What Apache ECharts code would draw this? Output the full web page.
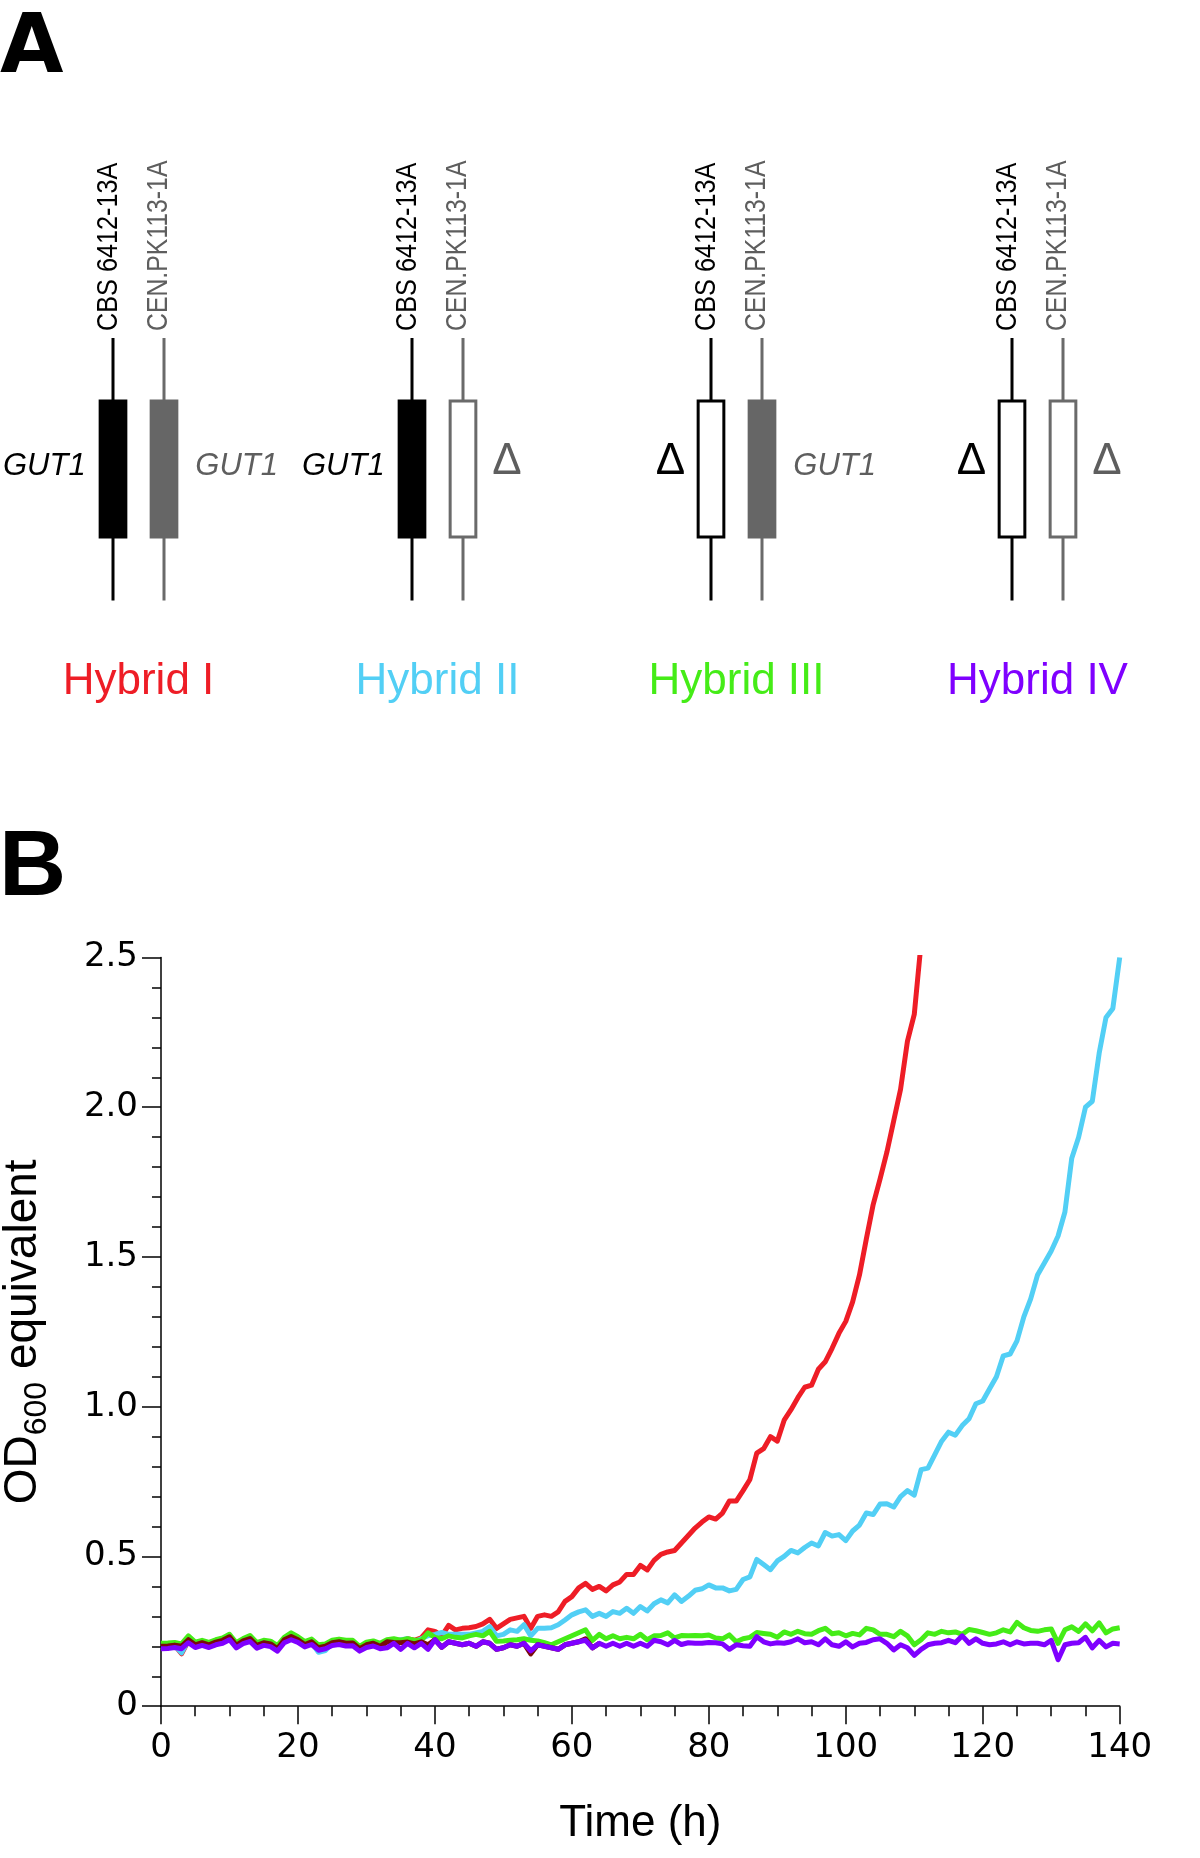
<!DOCTYPE html>
<html><head><meta charset="utf-8">
<script src="https://cdn.jsdelivr.net/npm/echarts@6/dist/echarts.min.js"></script>
<style>html,body{margin:0;padding:0;background:#fff}#c{width:1200px;height:1858px}</style>
</head><body><div id="c"></div>
<script>
// ---------- DATA ----------
const hours = [0,1,2,3,4,5,6,7,8,9,10,11,12,13,14,15,16,17,18,19,20,21,22,23,24,25,26,27,28,29,30,31,32,33,34,35,36,37,38,39,40,41,42,43,44,45,46,47,48,49,50,51,52,53,54,55,56,57,58,59,60,61,62,63,64,65,66,67,68,69,70,71,72,73,74,75,76,77,78,79,80,81,82,83,84,85,86,87,88,89,90,91,92,93,94,95,96,97,98,99,100,101,102,103,104,105,106,107,108,109,110,111,112,113,114,115,116,117,118,119,120,121,122,123,124,125,126,127,128,129,130,131,132,133,134,135,136,137,138,139,140];

const hybridI = [0.198,0.200,0.203,0.175,0.218,0.204,0.208,0.204,0.212,0.219,
 0.230,0.202,0.216,0.224,0.202,0.210,0.206,0.190,0.220,0.230,
 0.220,0.205,0.213,0.194,0.198,0.210,0.213,0.208,0.210,0.188,
 0.204,0.208,0.200,0.215,0.220,0.215,0.225,0.220,0.228,0.255,
 0.250,0.235,0.270,0.255,0.260,0.262,0.266,0.275,0.290,0.260,
 0.275,0.290,0.295,0.300,0.260,0.300,0.305,0.300,0.315,0.350,
 0.366,0.395,0.410,0.390,0.400,0.385,0.405,0.415,0.440,0.440,
 0.470,0.455,0.487,0.507,0.515,0.520,0.545,0.570,0.595,0.615,
 0.632,0.625,0.645,0.685,0.685,0.720,0.757,0.845,0.860,0.900,
 0.885,0.955,0.990,1.030,1.065,1.072,1.125,1.150,1.195,1.245,
 1.285,1.350,1.440,1.560,1.675,1.760,1.850,1.955,2.060,2.220,
 2.310,2.550];

const hybridII = [0.200,0.198,0.202,0.178,0.220,0.203,0.210,0.203,0.212,0.218,
 0.228,0.200,0.216,0.222,0.200,0.210,0.206,0.191,0.221,0.230,
 0.219,0.204,0.212,0.180,0.186,0.210,0.214,0.209,0.210,0.192,
 0.205,0.212,0.203,0.220,0.215,0.222,0.225,0.215,0.225,0.235,
 0.240,0.246,0.240,0.240,0.240,0.240,0.245,0.250,0.266,0.235,
 0.240,0.255,0.250,0.272,0.235,0.260,0.260,0.262,0.272,0.288,
 0.305,0.315,0.322,0.300,0.310,0.300,0.316,0.310,0.327,0.310,
 0.333,0.318,0.342,0.355,0.345,0.372,0.350,0.367,0.387,0.392,
 0.405,0.395,0.395,0.385,0.390,0.423,0.432,0.490,0.473,0.456,
 0.485,0.500,0.520,0.512,0.530,0.545,0.535,0.580,0.568,0.573,
 0.553,0.585,0.605,0.645,0.640,0.675,0.676,0.665,0.700,0.720,
 0.705,0.790,0.795,0.840,0.885,0.915,0.905,0.937,0.960,1.010,
 1.019,1.060,1.100,1.170,1.176,1.220,1.300,1.360,1.440,1.480,
 1.520,1.570,1.650,1.830,1.900,2.000,2.020,2.180,2.300,2.330,
 2.500];

const hybridIII = [0.210,0.211,0.213,0.208,0.235,0.214,0.220,0.213,0.222,0.228,
 0.240,0.212,0.226,0.236,0.212,0.220,0.217,0.202,0.230,0.245,
 0.232,0.216,0.224,0.205,0.208,0.220,0.224,0.220,0.220,0.200,
 0.214,0.218,0.210,0.222,0.225,0.220,0.225,0.220,0.220,0.245,
 0.230,0.225,0.235,0.230,0.228,0.235,0.240,0.235,0.250,0.217,
 0.218,0.220,0.222,0.225,0.220,0.218,0.212,0.205,0.215,0.225,
 0.235,0.245,0.255,0.220,0.240,0.225,0.235,0.225,0.230,0.225,
 0.240,0.222,0.235,0.236,0.245,0.228,0.236,0.235,0.236,0.235,
 0.238,0.228,0.225,0.238,0.215,0.225,0.230,0.246,0.243,0.240,
 0.230,0.248,0.240,0.250,0.242,0.240,0.252,0.260,0.242,0.245,
 0.235,0.243,0.238,0.260,0.255,0.240,0.240,0.232,0.250,0.235,
 0.205,0.222,0.245,0.240,0.250,0.245,0.248,0.240,0.256,0.252,
 0.246,0.240,0.245,0.255,0.248,0.280,0.262,0.253,0.250,0.255,
 0.258,0.210,0.255,0.265,0.250,0.275,0.252,0.278,0.245,0.258,
 0.262];

const hybridIV = [0.192,0.193,0.196,0.192,0.212,0.196,0.203,0.196,0.205,0.210,
 0.222,0.195,0.209,0.216,0.194,0.203,0.199,0.184,0.212,0.222,
 0.213,0.198,0.206,0.187,0.192,0.203,0.206,0.201,0.202,0.184,
 0.196,0.201,0.192,0.195,0.210,0.190,0.210,0.195,0.210,0.190,
 0.222,0.197,0.215,0.210,0.205,0.210,0.200,0.215,0.210,0.190,
 0.195,0.205,0.200,0.210,0.185,0.205,0.200,0.195,0.190,0.205,
 0.210,0.215,0.220,0.195,0.210,0.200,0.210,0.200,0.210,0.200,
 0.210,0.200,0.220,0.215,0.205,0.220,0.206,0.212,0.210,0.210,
 0.213,0.212,0.208,0.190,0.205,0.202,0.200,0.232,0.215,0.208,
 0.212,0.210,0.215,0.225,0.212,0.215,0.205,0.225,0.205,0.200,
 0.215,0.198,0.210,0.213,0.222,0.225,0.210,0.188,0.205,0.195,
 0.170,0.190,0.205,0.210,0.212,0.220,0.212,0.235,0.210,0.225,
 0.210,0.205,0.208,0.215,0.205,0.215,0.208,0.210,0.210,0.205,
 0.220,0.155,0.205,0.210,0.212,0.230,0.195,0.220,0.198,0.210,
 0.208];

// dark trace (mostly hidden under the others)
const darkTrace = [0.200,0.201,0.204,0.200,0.222,0.205,0.212,0.205,0.214,0.220,
 0.232,0.203,0.218,0.226,0.203,0.212,0.208,0.192,0.222,0.233,
 0.222,0.206,0.215,0.195,0.200,0.212,0.215,0.210,0.211,0.192,
 0.205,0.210,0.200,0.215,0.213,0.212,0.214,0.208,0.215,0.205,
 0.222,0.197,0.215,0.210,0.205,0.210,0.200,0.215,0.210,0.190,
 0.195,0.205,0.200,0.210,0.175,0.205,0.200,0.195,0.190,0.205,
 0.210,0.215,0.225,0.195,0.210];

const xTickLabels = ['0','20','40','60','80','100','120','140'];
const yTickLabels = ['0','0.5','1.0','1.5','2.0','2.5'];

const hybridNames = ['Hybrid I','Hybrid II','Hybrid III','Hybrid IV'];
const hybridColors = ['#EE1D26','#52CFF5','#45EC17','#7F00FF'];
const darkColor = '#7A0A0A';
const strainNames = ['CBS 6412-13A','CEN.PK113-1A'];
const cbsAllele = ['GUT1','GUT1','Δ','Δ'];
const cenAllele = ['GUT1','Δ','GUT1','Δ'];

// ---------- PANEL A schematic ----------
const SANS = "'Liberation Sans', Arial, Helvetica, sans-serif";
const DEJA = "'DejaVu Sans', sans-serif";
const GREY = '#6a6a6a';
const pairX = [113, 412, 711, 1012];
const lineTop = 338, lineBot = 600.5, boxTop = 399.4, boxH = 139.2, boxW = 28.7;
const panelA = [];
panelA.push({type:'text', x:0, y:51, style:{text:'A', fontFamily:DEJA, fontWeight:'bold', fontSize:82, fill:'#000', align:'left', verticalAlign:'middle'}});
panelA.push({type:'text', x:-1, y:869, style:{text:'B', fontFamily:SANS, fontWeight:'bold', fontSize:93, fill:'#000', align:'left', verticalAlign:'middle'}});

function chromo(cx, allele, color, lineColor) {
  panelA.push({type:'line', shape:{x1:cx, y1:lineTop, x2:cx, y2:lineBot}, style:{stroke:lineColor, lineWidth:3}});
  if (allele === 'Δ') {
    panelA.push({type:'rect', shape:{x:cx-boxW/2+1.5, y:boxTop+1.5, width:boxW-3, height:boxH-3}, style:{fill:'#fff', stroke:lineColor, lineWidth:3}});
  } else {
    panelA.push({type:'rect', shape:{x:cx-boxW/2, y:boxTop, width:boxW, height:boxH}, style:{fill:color}});
  }
}
function alleleLabel(x, allele, color, side) {
  if (allele === 'Δ') {
    panelA.push({type:'text', x: x, y: 462, style:{text:'Δ', fontFamily:SANS, fontSize:44, fill:color, align:'center', verticalAlign:'middle'}});
  } else {
    panelA.push({type:'text', x: x, y: 466, style:{text: allele, fontFamily:SANS, fontStyle:'italic', fontSize:31, fill:color, align: side, verticalAlign:'middle'}});
  }
}
hybridNames.forEach((name, i) => {
  const bx = pairX[i], gx = bx + 51;
  chromo(bx, cbsAllele[i], '#000', '#000');
  chromo(gx, cenAllele[i], '#666', GREY);
  if (cbsAllele[i] === 'Δ') alleleLabel(bx - 40.5, 'Δ', '#000');
  else alleleLabel(bx - boxW/2 - 13, cbsAllele[i], '#000', 'right');
  if (cenAllele[i] === 'Δ') alleleLabel(gx + 44, 'Δ', '#5e5e5e');
  else alleleLabel(gx + boxW/2 + 17, cenAllele[i], '#5e5e5e', 'left');
  panelA.push({type:'text', x: bx - 4.3, y: 331, rotation: Math.PI/2, scaleX: 0.87,
    style:{text: strainNames[0], fontFamily:SANS, fontSize:29, fill:'#000', align:'left', verticalAlign:'middle'}});
  panelA.push({type:'text', x: gx - 5, y: 331, rotation: Math.PI/2, scaleX: 0.855,
    style:{text: strainNames[1], fontFamily:SANS, fontSize:29, fill:'#5e5e5e', align:'left', verticalAlign:'middle'}});
  panelA.push({type:'text', x: (bx + gx)/2, y: 682, style:{text: name, fontFamily:SANS, fontSize:44, fill: hybridColors[i], align:'center', verticalAlign:'middle'}});
});

// ---------- PANEL B chart ----------
function pairs(arr) { return arr.map((v, i) => [hours[i], v]); }
function lineSeries(name, arr, color) {
  return {name, type:'line', data: pairs(arr), showSymbol:false, symbol:'none', smooth:false,
    lineStyle:{color, width:5, join:'round'}, itemStyle:{color}, clip:true, silent:true};
}

const chart = echarts.init(document.getElementById('c'), null, {renderer:'canvas'});
chart.setOption({
  animation:false,
  backgroundColor:'#fff',
  grid:{left:161, top:957.5, width:958.7, height:748.7, outerBoundsMode:'none'},
  xAxis:{
    type:'value', min:0, max:140, interval:20,
    name:'Time (h)', nameLocation:'middle', nameGap:96,
    nameTextStyle:{fontFamily:SANS, fontSize:44, color:'#000'},
    axisLine:{show:true, onZero:false, lineStyle:{color:'#000', width:1.5}},
    axisTick:{show:true, inside:false, length:18, lineStyle:{color:'#000', width:1.5}},
    minorTick:{show:true, splitNumber:4, length:10, lineStyle:{color:'#000', width:1.5}},
    splitLine:{show:false}, minorSplitLine:{show:false},
    axisLabel:{fontFamily:DEJA, fontSize:34, color:'#000', margin:25,
      formatter:(v)=>xTickLabels[Math.round(v/20)]}
  },
  yAxis:{
    type:'value', min:0, max:2.5, interval:0.5,
    name:'{a|OD}{b|600}{a| equivalent}', nameLocation:'middle', nameRotate:90, nameGap:108,
    nameTextStyle:{fontFamily:SANS, fontSize:46, color:'#000',
      rich:{a:{fontFamily:SANS, fontSize:46, color:'#000', verticalAlign:'top'},
            b:{fontFamily:SANS, fontSize:32, color:'#000', verticalAlign:'bottom', padding:[21,0,0,0]}}},
    axisLine:{show:true, onZero:false, lineStyle:{color:'#000', width:1.5}},
    axisTick:{show:true, inside:false, length:19, lineStyle:{color:'#000', width:1.5}},
    minorTick:{show:true, splitNumber:5, length:9, lineStyle:{color:'#000', width:1.5}},
    splitLine:{show:false}, minorSplitLine:{show:false},
    axisLabel:{fontFamily:DEJA, fontSize:34, color:'#000', margin:23,
      formatter:(v)=>yTickLabels[Math.round(v/0.5)]}
  },
  series:[
    lineSeries('Hybrid I', hybridI, hybridColors[0]),
    lineSeries('Hybrid II', hybridII, hybridColors[1]),
    lineSeries('Hybrid III', hybridIII, hybridColors[2]),
    lineSeries('Dark trace', darkTrace, darkColor),
    lineSeries('Hybrid IV', hybridIV, hybridColors[3])
  ],
  graphic:{elements: panelA}
});
</script></body></html>
